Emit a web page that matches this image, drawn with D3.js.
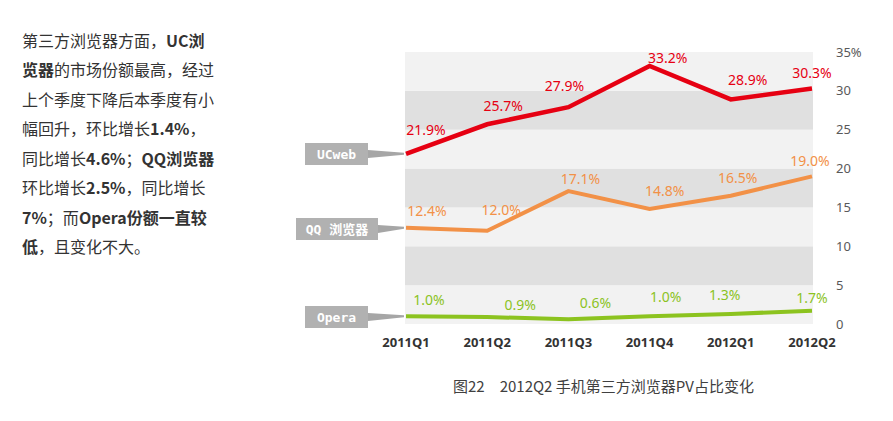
<!DOCTYPE html>
<html><head><meta charset="utf-8">
<script src="https://cdn.jsdelivr.net/npm/d3@7"></script>
<style>body{margin:0;background:#fff;} svg{display:block;}</style>
</head><body>
<script>
const categories = ["2011Q1","2011Q2","2011Q3","2011Q4","2012Q1","2012Q2"];
const ucValues = [21.9, 25.7, 27.9, 33.2, 28.9, 30.3];
const qqValues = [12.4, 12.0, 17.1, 14.8, 16.5, 19.0];
const operaValues = [1.0, 0.9, 0.6, 1.0, 1.3, 1.7];
const seriesNames = ["UCweb", "QQ 浏览器", "Opera"];
const yTicks = [0, 5, 10, 15, 20, 25, 30, 35];
const caption = "图22　2012Q2 手机第三方浏览器PV占比变化";

// label offsets (style, px) relative to each point
const ucLabelDx = [20, 16, -4, 18, 17, 0], ucLabelDy = [-24, -18, -21, -8, -19, -15];
const qqLabelDx = [21, 14, 12, 15, 7, -2], qqLabelDy = [-17, -21, -12, -18, -18, -15];
const opLabelDx = [23, 33, 27, 16, -6, 0], opLabelDy = [-16, -12, -16, -19, -19, -13];

const W = 893, H = 421;
const svg = d3.select("body").append("svg").attr("width", W).attr("height", H);

const x = d3.scalePoint().domain(categories).range([406, 812]);
const y = d3.scaleLinear().domain([0, 35]).range([324, 52]);

// bands
const plotL = 405, plotR = 813;
const bands = d3.range(0, 35, 5);
svg.append("g").selectAll("rect").data(bands).join("rect")
  .attr("x", plotL).attr("width", plotR - plotL)
  .attr("y", d => y(d + 5)).attr("height", d => y(d) - y(d + 5))
  .attr("fill", (d, i) => i % 2 === 0 ? "#f2f2f2" : "#e0e0e0");

// y axis labels (right)
svg.append("g").selectAll("text").data(yTicks).join("text")
  .attr("x", 836).attr("y", d => y(d)).attr("dy", "0.35em")
  .attr("font-family", "Noto Sans, sans-serif").attr("font-size", 13)
  .attr("fill", "#595959")
  .text(d => d === 35 ? "35%" : d);

// x axis labels
svg.append("g").selectAll("text").data(categories).join("text")
  .attr("x", d => x(d)).attr("y", 342).attr("dy", "0.35em")
  .attr("text-anchor", "middle")
  .attr("font-family", "Noto Sans, sans-serif").attr("font-size", 13)
  .attr("font-weight", "bold").attr("fill", "#333")
  .text(d => d);

const series = [
  {name: seriesNames[0], values: ucValues, color: "#e60012", width: 4.5, dx: ucLabelDx, dy: ucLabelDy, box: [305, 143, 63, 22]},
  {name: seriesNames[1], values: qqValues, color: "#f29147", width: 4, dx: qqLabelDx, dy: qqLabelDy, box: [296, 218, 82, 22]},
  {name: seriesNames[2], values: operaValues, color: "#8cc31f", width: 4, dx: opLabelDx, dy: opLabelDy, box: [305, 306, 63, 22]}
];

const line = d3.line().x((d, i) => x(categories[i])).y(d => y(d));

series.forEach(s => {
  const g = svg.append("g");
  const [bx, by, bw, bh] = s.box;
  const cy = by + bh / 2;
  const tipX = x(categories[0]) - 2, tipY = y(s.values[0]);
  g.append("path")
    .attr("d", `M${bx + bw},${cy - 4} L${tipX},${tipY - 1} L${tipX},${tipY + 1} L${bx + bw},${cy + 4} Z`)
    .attr("fill", "#a6a6a6");
  g.append("rect").attr("x", bx).attr("y", by).attr("width", bw).attr("height", bh)
    .attr("fill", "#b1b1b1");
  g.append("text").attr("x", bx + bw / 2).attr("y", cy).attr("dy", "0.36em")
    .attr("text-anchor", "middle").attr("fill", "#fff")
    .attr("font-family", "DejaVu Sans Mono, Noto Sans CJK SC, monospace")
    .attr("font-weight", "bold").attr("font-size", 13)
    .text(s.name);

  g.append("path").datum(s.values).attr("d", line)
    .attr("fill", "none").attr("stroke", s.color).attr("stroke-width", s.width)
    .attr("stroke-linejoin", "miter");

  g.selectAll("text.lbl").data(s.values).join("text").attr("class", "lbl")
    .attr("x", (d, i) => x(categories[i]) + s.dx[i])
    .attr("y", (d, i) => y(d) + s.dy[i]).attr("dy", "0.35em")
    .attr("text-anchor", "middle")
    .attr("font-family", "Noto Sans, sans-serif").attr("font-size", 14)
    .attr("fill", s.color)
    .text(d => d.toFixed(1) + "%");
});

// caption
svg.append("text").attr("x", 453).attr("y", 387).attr("dy", "0.35em")
  .attr("font-family", "Noto Sans CJK SC, Noto Sans, sans-serif").attr("font-size", 15)
  .attr("fill", "#404040").text(caption);

// left paragraph
const paraLines = [
  [["第三方浏览器方面，", 0], ["UC浏", 1]],
  [["览器", 1], ["的市场份额最高，经过", 0]],
  [["上个季度下降后本季度有小", 0]],
  [["幅回升，环比增长", 0], ["1.4%", 1], ["，", 0]],
  [["同比增长", 0], ["4.6%", 1], ["；", 0], ["QQ浏览器", 1]],
  [["环比增长", 0], ["2.5%", 1], ["，同比增长", 0]],
  [["7%", 1], ["；而", 0], ["Opera份额一直较", 1]],
  [["低", 1], ["，且变化不大。", 0]]
];
const para = svg.append("text")
  .attr("font-family", "Noto Sans CJK SC, Noto Sans, sans-serif")
  .attr("font-size", 16).attr("fill", "#333");
paraLines.forEach((ln, i) => {
  ln.forEach((seg, j) => {
    const t = para.append("tspan").text(seg[0])
      .attr("font-weight", seg[1] ? "bold" : "normal");
    if (j === 0) t.attr("x", 22).attr("y", 41 + i * 29.5).attr("dy", "0.35em");
  });
});
</script>
</body></html>
